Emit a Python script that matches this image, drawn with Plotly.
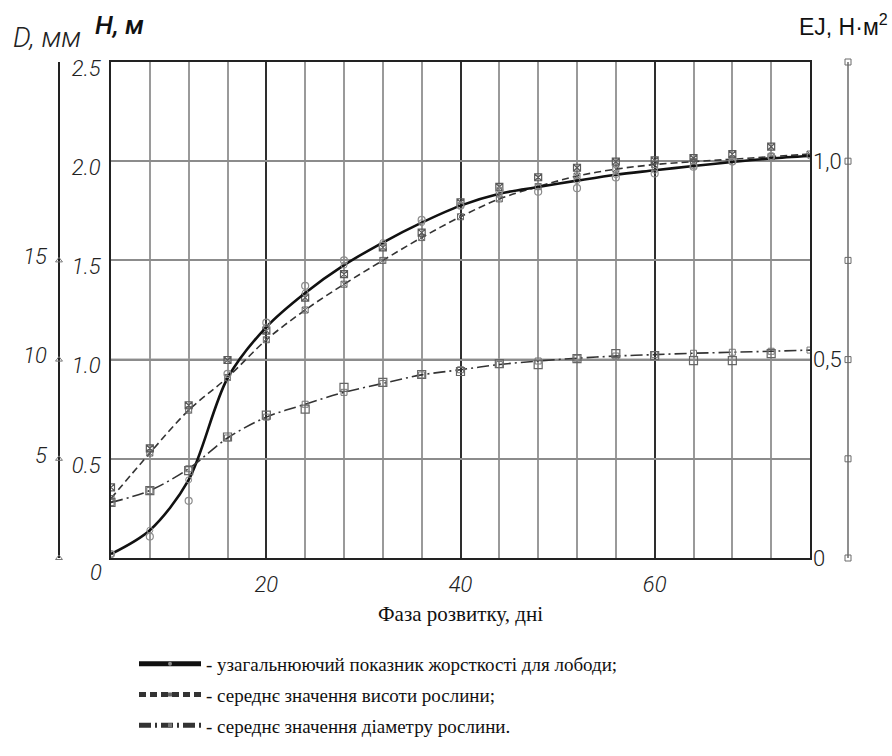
import plotly.graph_objects as go

# Canvas size in px
W, H = 892, 756

# Sampling days (every 4 days) and the fitted-curve nodes (one extra at day 76)
days = [4, 8, 12, 16, 20, 24, 28, 32, 36, 40, 44, 48, 52, 56, 60, 64, 68, 72]
curve_days = days + [76]

# Generalised stiffness EJ, N·m² (circles = measurements, solid curve = fit)
ej_points = [0.010, 0.054, 0.144, 0.464, 0.593, 0.686, 0.750, 0.787, 0.852,
             0.888, 0.926, 0.923, 0.932, 0.959, 0.969, 0.986, 0.999, 1.013]
ej_curve = [0.010, 0.070, 0.197, 0.453, 0.582, 0.668, 0.738, 0.795, 0.845,
            0.888, 0.918, 0.935, 0.951, 0.966, 0.977, 0.988, 0.998, 1.007, 1.013]

# Mean plant height H, m
height_points = [0.356, 0.553, 0.770, 0.998, 1.146, 1.312, 1.431, 1.566, 1.640,
                 1.793, 1.871, 1.919, 1.967, 1.998, 2.004, 2.015, 2.036, 2.073]
height_curve = [0.300, 0.529, 0.745, 0.910, 1.100, 1.250, 1.380, 1.500, 1.615,
                1.720, 1.810, 1.872, 1.925, 1.960, 1.983, 1.998, 2.010, 2.023, 2.036]

# Mean stem diameter D, mm
diam_points = [2.8, 3.4, 4.4, 6.1, 7.2, 7.5, 8.6, 8.85, 9.25,
               9.4, 9.8, 9.75, 10.05, 10.3, 10.2, 9.95, 9.95, 10.3]
diam_curve = [2.8, 3.4, 4.5, 6.05, 7.1, 7.75, 8.35, 8.8, 9.23,
              9.49, 9.75, 9.93, 10.07, 10.18, 10.25, 10.32, 10.37, 10.42, 10.48]

# Axis ticks
h_ticks = [0.5, 1.0, 1.5, 2.0, 2.5]
h_labels = ["0.5", "1.0", "1.5", "2.0", "2.5"]
d_ticks = [5, 10, 15]
d_marks = [0, 5, 10, 15]
ej_ticks = [0, 0.5, 1.0]
ej_labels = ["0", "0,5", "1,0"]
ej_marks = [0, 0.25, 0.5, 0.75, 1.0, 1.25]

names = [
    "- узагальнюючий показник жорсткості для лободи;",
    "- середнє значення висоти рослини;",
    "- середнє значення діаметру рослини.",
]


def px(x):
    return x / W


def py(y):
    return 1 - y / H


X_DOM = [px(111), px(810)]
Y_DOM = [py(558), py(62)]
D_POS = px(59)
EJ_POS = px(848)

DRAW_FONT = "Roboto, DejaVu Sans, sans-serif"
SERIF = "Liberation Serif, DejaVu Serif, serif"
INK = "#222222"

fig = go.Figure()

# Stiffness
fig.add_trace(go.Scatter(
    x=curve_days, y=ej_curve, yaxis="y2", mode="lines+markers", name=names[0],
    legendgroup="a",
    line=dict(color="#111111", width=2.6, shape="spline", smoothing=0.9),
    marker=dict(symbol="circle-open", size=0, color="#888888", line=dict(width=1)),
))
fig.add_trace(go.Scatter(
    x=days, y=ej_points, yaxis="y2", mode="markers", showlegend=False, legendgroup="a",
    marker=dict(symbol="circle-open", size=7, color="#8c8c8c", line=dict(width=1.2)),
))

# Height
fig.add_trace(go.Scatter(
    x=curve_days, y=height_curve, yaxis="y", mode="lines+markers", name=names[1],
    legendgroup="b",
    line=dict(color="#333333", width=1.6, dash="7px,4px", shape="spline", smoothing=0.9),
    marker=dict(symbol="square-x-open", size=0, color="#666666", line=dict(width=1)),
))
fig.add_trace(go.Scatter(
    x=days, y=height_points, yaxis="y", mode="markers", showlegend=False, legendgroup="b",
    marker=dict(symbol="square-x-open", size=7, color="#5a5a5a", line=dict(width=1.2)),
))

# Diameter
fig.add_trace(go.Scatter(
    x=curve_days, y=diam_curve, yaxis="y3", mode="lines+markers", name=names[2],
    legendgroup="c",
    line=dict(color="#333333", width=1.6, dash="12px,4px,2px,4px", shape="spline", smoothing=0.9),
    marker=dict(symbol="square-open", size=0, color="#777777", line=dict(width=1)),
))
fig.add_trace(go.Scatter(
    x=days, y=diam_points, yaxis="y3", mode="markers", showlegend=False, legendgroup="c",
    marker=dict(symbol="square-open", size=8, color="#666666", line=dict(width=1.2)),
))

# Tick marks on the separate D axis
fig.add_trace(go.Scatter(
    x=[0] * len(d_marks), y=d_marks, xaxis="x2", yaxis="y3", mode="markers",
    showlegend=False, cliponaxis=False, hoverinfo="skip",
    marker=dict(symbol="triangle-up-open", size=6, color="#777777", line=dict(width=1)),
))

# Separate EJ scale bar on the far right
fig.add_trace(go.Scatter(
    x=[0] * len(ej_marks), y=ej_marks, xaxis="x3", yaxis="y2", mode="lines+markers",
    showlegend=False, cliponaxis=False, hoverinfo="skip",
    line=dict(color="#6a6a6a", width=1.5),
    marker=dict(symbol="square-open", size=6, color="#6a6a6a", line=dict(width=1)),
))

# Darker horizontal rules
for v in (0.5, 1.0):
    fig.add_shape(type="line", xref="paper", yref="y", x0=X_DOM[0], x1=X_DOM[1],
                  y0=v, y1=v, layer="below", line=dict(color="#3a3a3a", width=1.5))

tick_font = dict(family=DRAW_FONT, size=22, color=INK, style="italic", weight=300)

fig.update_layout(
    template="none",
    width=W, height=H,
    margin=dict(l=0, r=0, t=0, b=0),
    paper_bgcolor="white", plot_bgcolor="white",
    showlegend=True,
    legend=dict(
        x=px(134), y=py(645), xanchor="left", yanchor="top",
        font=dict(family=SERIF, size=19, color="#111111"),
        itemsizing="constant", itemwidth=62, tracegroupgap=3,
        bgcolor="rgba(0,0,0,0)",
    ),
    xaxis=dict(
        domain=X_DOM, range=[4, 76], tick0=0, dtick=20,
        showgrid=True, gridcolor="#2e2e2e", gridwidth=1.6,
        minor=dict(tick0=0, dtick=4, showgrid=True, gridcolor="#9a9a9a", gridwidth=1.6),
        showline=True, mirror=True, linecolor=INK, linewidth=2,
        ticks="", tickfont=tick_font, ticklabelstandoff=6,
        zeroline=False, automargin=False,
    ),
    yaxis=dict(
        domain=Y_DOM, range=[0, 2.5], tickvals=h_ticks, ticktext=h_labels,
        showgrid=True, gridcolor="#8c8c8c", gridwidth=1.5,
        showline=True, mirror=True, linecolor=INK, linewidth=2,
        ticks="", tickfont=tick_font, ticklabelstandoff=4, ticklabelshift=6,
        zeroline=False, automargin=False,
    ),
    yaxis2=dict(
        overlaying="y", anchor="x", side="right", range=[0, 1.25],
        tickvals=ej_ticks, ticktext=ej_labels, showgrid=False, showline=False,
        ticks="", tickfont=dict(family=DRAW_FONT, size=22, color=INK, weight=300),
        ticklabelstandoff=2, zeroline=False, automargin=False,
    ),
    yaxis3=dict(
        overlaying="y", anchor="free", position=D_POS, side="left", range=[0, 25],
        tickvals=d_ticks, showgrid=False, showline=True, linecolor=INK, linewidth=1.5,
        ticks="", tickfont=tick_font, ticklabelstandoff=7, ticklabelshift=-4,
        zeroline=False, automargin=False,
    ),
    xaxis2=dict(domain=[D_POS - 0.01, D_POS + 0.01], range=[-1, 1], anchor="y",
                visible=False, automargin=False),
    xaxis3=dict(domain=[EJ_POS - 0.01, EJ_POS + 0.01], range=[-1, 1], anchor="y",
                visible=False, automargin=False),
)

ann = [
    dict(text="D, мм", x=px(47), y=py(37), font=dict(family=DRAW_FONT, size=28, color=INK, style="italic", weight=300)),
    dict(text="H, м", x=px(119), y=py(25), font=dict(family=DRAW_FONT, size=26, color="#111", style="italic", weight=500)),
    dict(text="EJ, Н·м<sup>2</sup>", x=px(843), y=py(25), font=dict(family="Liberation Sans, Arial, sans-serif", size=23, color="#111")),
    dict(text="0", x=px(96), y=py(572), font=tick_font),
    dict(text="Фаза розвитку, дні", x=px(460), y=py(614), font=dict(family=SERIF, size=21, color="#111")),
]
for a in ann:
    fig.add_annotation(xref="paper", yref="paper", showarrow=False,
                       xanchor="center", yanchor="middle", **a)

fig.write_html("out.html")
